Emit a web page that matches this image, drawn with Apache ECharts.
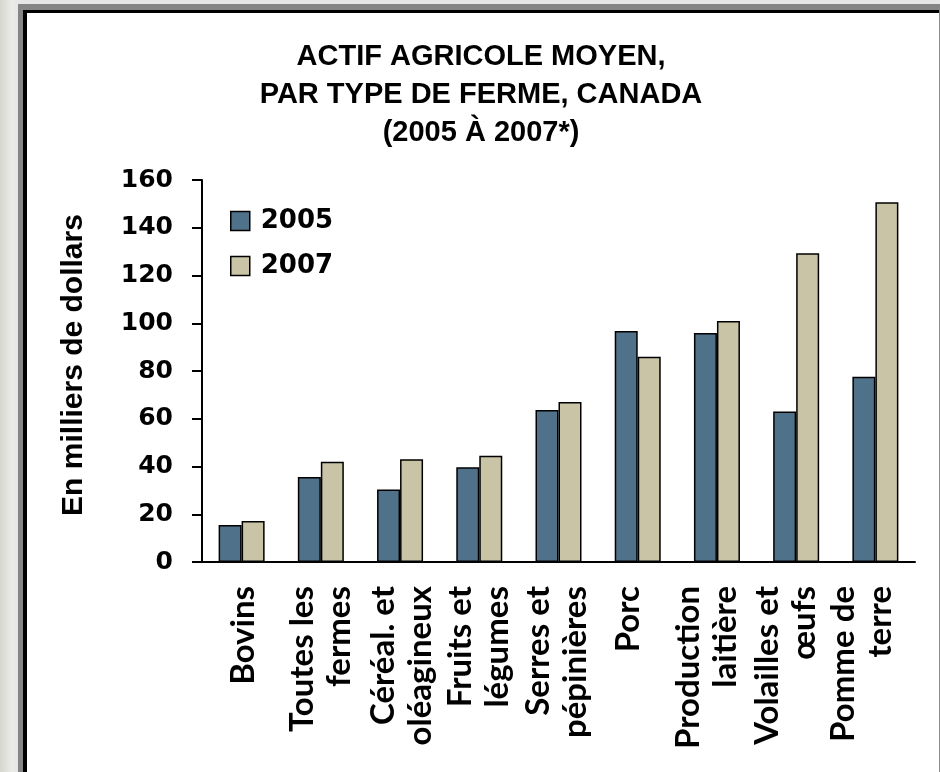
<!DOCTYPE html>
<html>
<head>
<meta charset="utf-8">
<title>Actif agricole moyen</title>
<style>
    body { margin: 0; width: 940px; height: 772px; overflow: hidden;
           background: linear-gradient(to right, #d6d6cf 0px, #ebebe8 12px, #e6e6e6 18px); }
    #frame { position: absolute; left: 18px; top: 4px; width: 916px; height: 800px;
             border-left: 5px solid #858585; border-top: 6px solid #858585; border-right: 1px solid #8a8a8a; }
    #inner { position: absolute; left: 0; top: 0; right: 0; bottom: 0;
             border-left: 4px solid #000; border-top: 3px solid #000; background: #fff; }
    #main { position: absolute; left: 0; top: 0; width: 940px; height: 772px; }
</style>
</head>
<body>
<div id="frame"><div id="inner"></div></div>
<div id="main"></div>
<script src="https://cdn.jsdelivr.net/npm/echarts@6/dist/echarts.min.js"></script>
<script>
    // données (milliers de dollars)
    var categories = ['Bovins', 'Toutes les\nfermes', 'Céréal. et\noléagineux', 'Fruits et\nlégumes',
        'Serres et\npépinières', 'Porc', 'Production\nlaitière', 'Volailles et\nœufs', 'Pomme de\nterre'];
    var values2005 = [15.5, 35.6, 30.4, 39.7, 63.7, 96.8, 95.9, 63.0, 77.6];
    var values2007 = [17.2, 42.0, 43.0, 44.5, 67.0, 86.0, 100.9, 129.3, 150.7];
    var yTicks = [0, 20, 40, 60, 80, 100, 120, 140, 160];

    // décalage horizontal des étiquettes (px, négatif = vers la gauche), comme dans l'original
    var labelShift = [1.5, 0, 1.5, 0, -2, -9, -10, -10, -14];

    // une ligne vide de hauteur 2*décalage pousse le bloc centré du bon côté
    var gapRich = {};
    labelShift.forEach(function (s, i) {
        if (s !== 0) {
            gapRich['g' + i] = { fontSize: 1, lineHeight: Math.abs(2 * s) };
        }
    });

    var myChart = echarts.init(document.getElementById('main'));
    myChart.setOption({
        animation: false,
        title: {
            text: 'ACTIF AGRICOLE MOYEN,\nPAR TYPE DE FERME, CANADA\n(2005 À 2007*)',
            left: 481,
            top: 38,
            padding: 0,
            textAlign: 'center',
            textStyle: {
                fontFamily: 'Liberation Sans',
                fontWeight: 'bold',
                fontSize: 29,
                lineHeight: 38,
                color: '#000'
            }
        },
        legend: {
            orient: 'vertical',
            left: 230,
            top: 208,
            padding: 0,
            itemWidth: 19,
            itemHeight: 19,
            itemGap: 19,
            icon: 'rect',
            itemStyle: { borderColor: '#000', borderWidth: 1.5 },
            textStyle: {
                fontFamily: 'DejaVu Sans',
                fontWeight: 'bold',
                fontSize: 26,
                color: '#000',
                padding: [0, 0, 0, 6]
            },
            data: ['2005', '2007']
        },
        grid: {
            left: 202,
            right: 25,
            top: 180,
            bottom: 210
        },
        xAxis: {
            type: 'category',
            data: categories,
            axisLine: { lineStyle: { color: '#000', width: 2 } },
            axisTick: { length: 10, lineStyle: { color: '#000', width: 2 } },
            axisLabel: {
                interval: 0,
                rotate: 90,
                margin: 24,
                fontFamily: 'Lato',
                fontWeight: 'bold',
                fontSize: 33,
                lineHeight: 37,
                color: '#000',
                rich: gapRich,
                formatter: function (value, idx) {
                    var s = labelShift[idx];
                    if (s < 0) return value + '\n{g' + idx + '| }';
                    if (s > 0) return '{g' + idx + '| }\n' + value;
                    return value;
                }
            }
        },
        yAxis: {
            type: 'value',
            min: yTicks[0],
            max: yTicks[yTicks.length - 1],
            interval: 20,
            name: 'En milliers de dollars',
            nameLocation: 'middle',
            nameRotate: 90,
            nameGap: 113,
            nameTextStyle: {
                fontFamily: 'Liberation Sans',
                fontWeight: 'bold',
                fontSize: 30,
                color: '#000',
                padding: [0, 0, 0, 12]
            },
            axisLine: { show: true, lineStyle: { color: '#000', width: 2 } },
            axisTick: { show: true, length: 10, lineStyle: { color: '#000', width: 2 } },
            splitLine: { show: false },
            axisLabel: {
                margin: 29,
                fontFamily: 'DejaVu Sans',
                fontWeight: 'bold',
                fontSize: 25,
                color: '#000'
            }
        },
        series: [{
            name: '2005',
            type: 'bar',
            data: values2005,
            barWidth: 23,
            barGap: '0%',
            itemStyle: { color: '#4f7189', borderColor: '#000', borderWidth: 1.5 }
        }, {
            name: '2007',
            type: 'bar',
            data: values2007,
            barWidth: 23,
            itemStyle: { color: '#c9c4a6', borderColor: '#000', borderWidth: 1.5 }
        }]
    });
</script>
</body>
</html>
